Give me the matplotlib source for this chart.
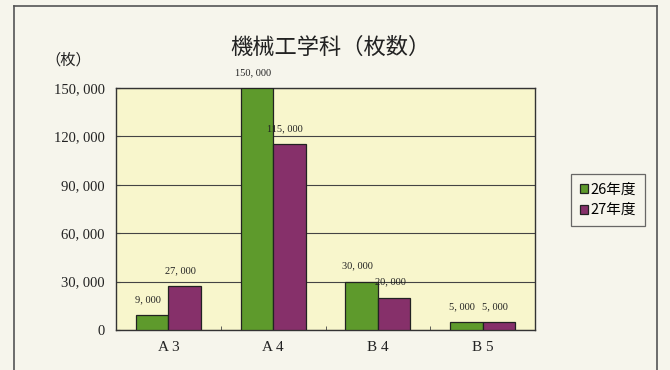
import matplotlib
matplotlib.use("Agg")
import matplotlib.pyplot as plt
import numpy as np
from matplotlib.lines import Line2D

categories = ["A 3", "A 4", "B 4", "B 5"]
series_names = ["26年度", "27年度"]
values_26 = [9000, 150000, 30000, 5000]
values_27 = [27000, 115000, 20000, 5000]
yticks = [0, 30000, 60000, 90000, 120000, 150000]
ytick_labels = ["0", "30, 000", "60, 000", "90, 000", "120, 000", "150, 000"]

green = "#5e9a2c"
purple = "#86306a"
bg = "#f6f5ec"

cjk = ["Noto Sans CJK JP", "DejaVu Sans"]
serif = ["Liberation Serif", "DejaVu Serif"]

fig = plt.figure(figsize=(6.7, 3.7), dpi=100, facecolor=bg)
# outer frame
fig.add_artist(Line2D([14/670, 14/670], [0, 1-6/370], color="#555555", lw=1.2))
fig.add_artist(Line2D([14/670, 657/670], [1-6/370, 1-6/370], color="#555555", lw=1.2))
fig.add_artist(Line2D([657/670, 657/670], [0, 1-6/370], color="#555555", lw=1.2))

ax = fig.add_axes([116/670, 1-330/370, (535-116)/670, (330-88)/370])
ax.set_facecolor("#f8f6cc")

x = np.arange(len(categories))
w = 0.31
b1 = ax.bar(x - w/2, values_26, w, color=green, edgecolor="#222222", lw=0.9, label=series_names[0], zorder=3)
b2 = ax.bar(x + w/2, values_27, w, color=purple, edgecolor="#222222", lw=0.9, label=series_names[1], zorder=3)

for bars, vals in ((b1, values_26), (b2, values_27)):
    for r, v in zip(bars, vals):
        ax.annotate(f"{v:,}".replace(",", ", "), (r.get_x() + r.get_width()/2, v), xytext=(-3, 8),
                    textcoords="offset points", ha="center", va="bottom",
                    fontsize=7.5, family=serif, color="#222222", clip_on=False, zorder=4)

ax.set_xlim(-0.5, len(categories) - 0.5)
ax.set_ylim(0, 150000)
ax.set_yticks(yticks)
ax.set_yticklabels(ytick_labels, family=serif, fontsize=10.5, color="#222222")
ax.set_xticks(x)
ax.set_xticklabels(categories, family=serif, fontsize=11, color="#222222")
ax.set_xticks(np.arange(0.5, len(categories) - 0.5, 1), minor=True)
ax.tick_params(axis="x", which="major", length=0, pad=8)
ax.tick_params(axis="x", which="minor", length=3, direction="in", color="#444444")
ax.tick_params(axis="y", length=3, direction="in", color="#444444", pad=8)
ax.grid(axis="y", color="#444444", lw=0.8, zorder=1)
for s in ax.spines.values():
    s.set_color("#333333")
    s.set_linewidth(1.0)

fig.text(330/670, 1-47/370, "機械工学科（枚数）", ha="center", va="center", fontsize=16, family=cjk, color="#222222")
fig.text(68/670, 1-60/370, "（枚）", ha="center", va="center", fontsize=11, family=cjk, color="#222222")

leg = fig.legend(handles=[b1, b2], labels=series_names, loc="center",
                 bbox_to_anchor=(608/670, 1-200/370), prop={"family": cjk, "size": 10.5},
                 frameon=True, fancybox=False, edgecolor="#444444", facecolor=bg,
                 handlelength=0.55, handleheight=0.55, handletextpad=0.2, borderpad=0.6,
                 labelspacing=0.45)
leg.get_frame().set_linewidth(0.9)

fig.savefig("out.png", dpi=100, facecolor=bg)
